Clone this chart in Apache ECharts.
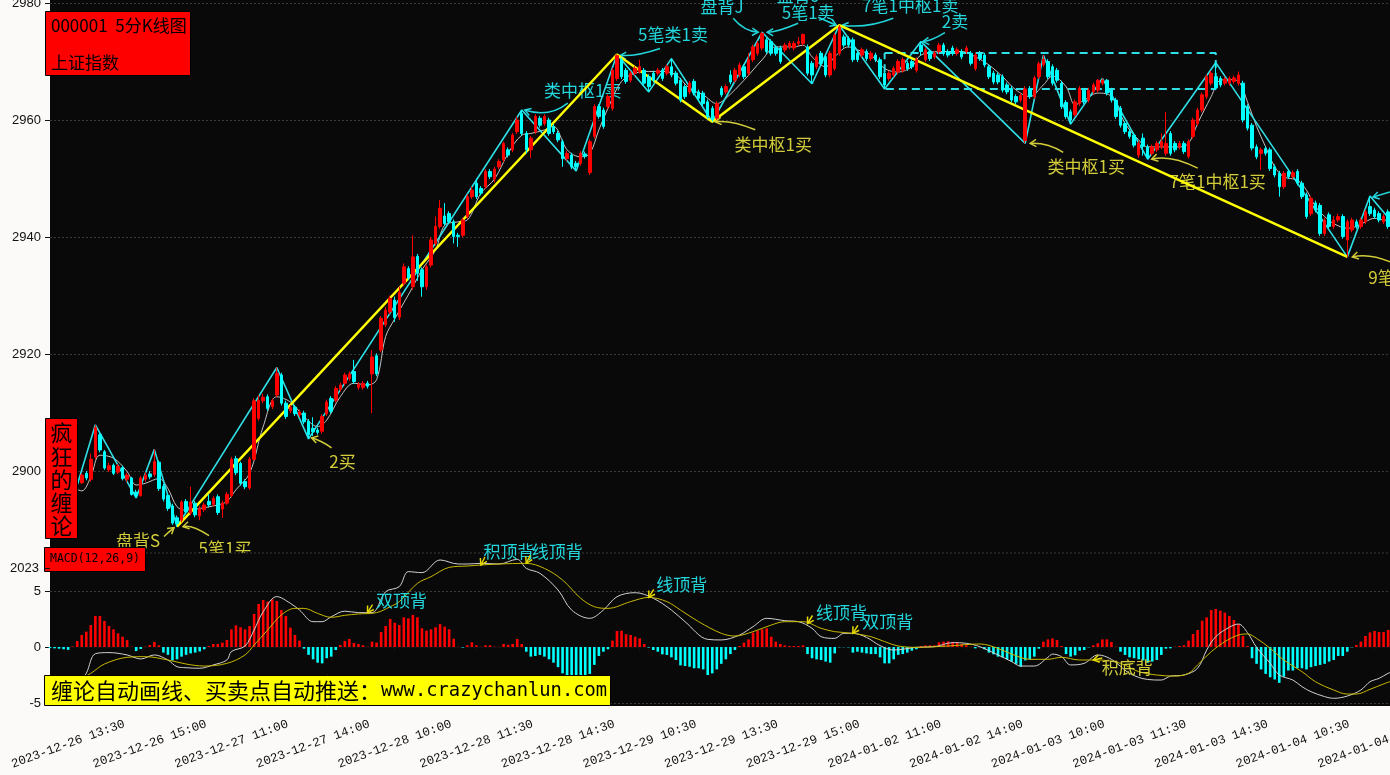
<!DOCTYPE html>
<html><head><meta charset="utf-8">
<script src="https://cdn.jsdelivr.net/npm/echarts@6.0.0/dist/echarts.min.js"></script>
<style>html,body{margin:0;padding:0;background:#fcfaf8;}#c{width:1390px;height:775px;}</style>
</head><body><div id="c"></div>
<script>
// ---------- DATA ----------
const tradingDays = ['2023-12-26','2023-12-27','2023-12-28','2023-12-29','2024-01-02','2024-01-03','2024-01-04'];
const firstBar = '2023-12-26 13:10';
const barCount = 297;
const tickLabels = ['2023-12-26 13:30','2023-12-26 15:00','2023-12-27 11:00','2023-12-27 14:00','2023-12-28 10:00','2023-12-28 11:30','2023-12-28 14:30','2023-12-29 10:30','2023-12-29 13:30','2023-12-29 15:00','2024-01-02 11:00','2024-01-02 14:00','2024-01-03 10:00','2024-01-03 11:30','2024-01-03 14:30','2024-01-04 10:30','2024-01-04 13:30'];

// [open, close, low, high]
const ohlc = [
[2900.5,2899.8,2899.2,2901.0],[2899.8,2900.6,2899.4,2901.2],[2900.6,2899.6,2899.1,2900.9],[2899.6,2899.0,2898.6,2900.0],[2899.1,2899.8,2898.8,2900.3],
[2899.8,2899.2,2898.9,2900.1],[2898.6,2898.0,2897.6,2899.0],[2898.0,2899.3,2897.8,2899.6],[2899.6,2898.8,2898.4,2900.0],[2898.6,2902.0,2898.2,2903.0],
[2902.4,2907.4,2902.0,2907.9],[2906.2,2903.6,2903.2,2906.6],[2903.3,2900.5,2900.2,2903.6],[2900.2,2900.9,2899.8,2901.4],[2901.0,2899.6,2899.3,2901.3],
[2899.8,2900.8,2899.5,2901.2],[2900.6,2898.7,2898.4,2900.9],[2898.6,2899.3,2898.1,2899.7],[2898.8,2896.0,2895.8,2899.0],[2896.4,2895.8,2895.4,2896.8],
[2895.8,2898.8,2895.6,2899.2],[2898.6,2899.3,2898.2,2899.8],[2899.5,2899.0,2898.6,2900.0],[2899.4,2901.6,2899.0,2903.7],[2901.5,2897.0,2896.6,2901.8],
[2897.4,2895.2,2894.8,2897.8],[2895.8,2893.6,2893.2,2896.2],[2894.0,2891.1,2890.8,2894.4],[2892.0,2891.0,2890.5,2892.4],[2891.6,2894.7,2891.2,2895.0],
[2894.8,2893.0,2892.6,2895.2],[2892.8,2894.7,2892.4,2897.3],[2894.5,2892.5,2892.1,2894.9],[2892.3,2893.6,2891.6,2894.0],[2893.4,2894.2,2893.0,2894.6],
[2894.8,2894.2,2893.8,2896.0],[2894.3,2895.3,2893.9,2895.7],[2895.6,2892.9,2892.5,2896.0],[2893.5,2894.5,2892.0,2894.9],[2894.5,2896.0,2894.2,2896.4],
[2895.8,2902.0,2895.5,2902.4],[2902.1,2899.7,2899.3,2902.6],[2901.3,2897.9,2897.5,2901.6],[2898.2,2897.3,2896.9,2898.6],[2897.1,2902.0,2896.8,2902.4],
[2902.0,2912.0,2901.8,2912.4],[2909.0,2912.1,2908.6,2913.0],[2912.0,2912.6,2911.6,2913.2],[2912.7,2910.7,2910.3,2913.1],[2911.0,2912.0,2910.6,2912.4],
[2913.0,2916.7,2912.6,2917.7],[2916.4,2911.6,2911.2,2916.8],[2911.6,2909.3,2908.9,2912.0],[2910.3,2910.9,2909.9,2911.3],[2910.9,2909.8,2909.4,2911.3],
[2909.6,2910.1,2909.2,2910.5],[2909.9,2908.4,2908.0,2910.3],[2908.5,2906.2,2905.5,2908.9],[2907.3,2906.7,2906.0,2909.2],[2907.0,2906.6,2906.2,2907.4],
[2906.8,2909.3,2906.4,2909.7],[2909.8,2911.8,2909.4,2912.2],[2912.4,2910.2,2909.8,2912.8],[2912.1,2914.1,2911.7,2914.5],[2914.0,2914.7,2913.6,2915.1],
[2915.0,2916.4,2914.6,2916.8],[2915.8,2916.6,2915.4,2917.0],[2917.0,2915.3,2914.9,2919.0],[2914.3,2914.8,2913.9,2915.2],[2914.3,2915.0,2913.9,2915.4],
[2915.0,2914.5,2914.1,2915.4],[2916.6,2919.5,2909.9,2920.7],[2919.7,2916.6,2916.2,2920.1],[2920.7,2926.1,2920.3,2926.5],[2925.0,2927.5,2924.6,2928.0],
[2927.2,2929.5,2926.8,2930.0],[2929.2,2926.2,2925.5,2929.8],[2926.3,2930.5,2925.8,2931.5],[2932.1,2934.9,2931.6,2935.5],[2934.6,2933.0,2932.6,2935.0],
[2931.5,2936.6,2931.0,2940.3],[2936.7,2933.8,2932.5,2937.1],[2934.4,2931.5,2929.8,2934.8],[2931.5,2934.9,2931.0,2935.3],[2935.2,2939.5,2934.8,2940.0],
[2938.9,2941.8,2938.5,2943.5],[2941.8,2944.9,2941.4,2946.3],[2943.6,2942.3,2941.9,2945.8],[2944.0,2942.6,2942.2,2944.4],[2942.6,2940.1,2938.9,2943.0],
[2940.3,2940.1,2938.3,2940.7],[2940.3,2942.9,2939.9,2943.3],[2943.5,2946.9,2943.1,2947.3],[2946.9,2948.0,2946.5,2948.6],[2949.2,2946.9,2946.5,2950.0],
[2948.3,2947.5,2947.1,2948.7],[2948.6,2951.2,2948.2,2951.6],[2951.2,2950.3,2949.9,2951.6],[2949.9,2951.6,2949.3,2952.0],[2952.0,2952.9,2951.6,2953.3],
[2953.2,2956.0,2952.8,2956.3],[2954.9,2954.0,2953.6,2955.3],[2954.9,2957.4,2954.5,2957.8],[2958.0,2960.0,2957.6,2960.6],[2961.1,2957.7,2957.3,2961.7],
[2957.7,2954.9,2954.3,2958.1],[2954.9,2956.9,2953.5,2957.3],[2958.0,2960.6,2957.6,2961.0],[2960.3,2959.1,2958.7,2960.7],[2959.4,2960.6,2959.0,2961.0],
[2960.0,2957.7,2957.3,2960.4],[2958.9,2958.0,2957.6,2959.3],[2957.7,2956.6,2956.2,2958.1],[2956.3,2953.4,2952.0,2956.7],[2953.4,2954.3,2953.0,2954.7],
[2954.0,2952.0,2951.6,2954.4],[2952.6,2952.0,2951.3,2953.0],[2952.6,2954.3,2952.2,2954.7],[2954.2,2953.8,2953.4,2954.6],[2951.0,2956.3,2950.6,2956.7],
[2957.2,2962.3,2956.8,2962.7],[2962.3,2960.6,2960.2,2962.7],[2961.7,2958.9,2958.5,2962.1],[2962.3,2964.0,2961.9,2964.4],[2962.0,2968.5,2961.6,2968.9],
[2967.1,2971.0,2966.7,2971.2],[2970.3,2967.4,2967.0,2970.7],[2968.5,2966.6,2966.2,2968.9],[2966.8,2968.0,2966.4,2968.4],[2968.0,2968.8,2967.6,2969.2],
[2968.3,2969.1,2967.9,2970.3],[2968.5,2966.3,2965.9,2968.9],[2967.4,2965.7,2964.8,2967.8],[2968.0,2966.8,2966.4,2968.4],[2968.0,2968.5,2967.6,2968.9],
[2968.5,2967.1,2966.7,2968.9],[2968.0,2969.1,2967.6,2969.5],[2969.1,2967.7,2967.3,2970.5],[2968.0,2966.3,2965.9,2968.4],[2966.8,2963.4,2963.0,2967.2],
[2965.7,2964.0,2963.6,2966.1],[2964.8,2966.3,2964.4,2966.7],[2966.6,2964.6,2964.2,2967.0],[2964.8,2963.7,2963.3,2965.2],[2964.6,2962.8,2962.4,2965.0],
[2963.1,2960.6,2960.2,2963.5],[2962.0,2960.0,2959.7,2962.4],[2960.3,2962.8,2960.0,2963.2],[2965.4,2964.3,2963.9,2965.8],[2964.8,2965.7,2964.4,2966.1],
[2967.7,2966.5,2966.1,2968.5],[2966.8,2968.5,2966.4,2968.9],[2967.7,2969.4,2967.3,2969.8],[2969.1,2967.4,2967.0,2969.5],[2968.0,2970.3,2967.6,2971.4],
[2970.3,2972.5,2969.9,2972.9],[2971.4,2973.1,2971.0,2973.5],[2972.3,2974.8,2971.9,2975.0],[2973.7,2971.7,2971.3,2974.1],[2973.4,2971.4,2971.0,2973.8],
[2972.3,2971.4,2971.0,2972.7],[2972.3,2970.0,2969.6,2972.7],[2972.0,2972.8,2971.6,2973.2],[2972.5,2973.1,2972.1,2973.5],[2972.3,2973.1,2971.9,2973.5],
[2973.1,2973.4,2972.7,2974.2],[2973.1,2974.6,2972.7,2974.8],[2972.5,2968.0,2967.6,2972.9],[2969.7,2967.7,2966.2,2970.1],[2969.1,2970.8,2968.7,2971.2],
[2971.4,2969.7,2969.3,2971.8],[2970.8,2967.7,2967.3,2971.2],[2967.7,2971.4,2967.3,2971.8],[2968.8,2974.5,2968.4,2974.9],[2971.4,2975.9,2971.0,2976.2],
[2974.2,2972.8,2972.4,2974.6],[2973.9,2972.8,2972.4,2974.3],[2973.7,2970.3,2969.9,2974.1],[2971.4,2970.3,2969.9,2971.8],[2971.1,2972.0,2970.7,2972.4],
[2971.7,2970.5,2970.1,2972.1],[2970.5,2971.4,2970.1,2971.8],[2971.1,2970.3,2969.9,2971.5],[2970.3,2967.4,2967.0,2970.7],[2968.0,2966.0,2965.3,2968.4],
[2967.1,2968.0,2966.7,2968.4],[2967.7,2968.8,2967.3,2969.2],[2968.2,2970.0,2967.8,2970.4],[2968.5,2970.3,2968.1,2970.7],[2969.7,2968.8,2968.4,2970.1],
[2970.0,2969.1,2968.7,2970.4],[2968.5,2970.3,2968.1,2970.7],[2972.8,2971.7,2971.0,2973.4],[2970.3,2972.0,2969.9,2972.4],[2971.7,2970.5,2970.1,2972.1],
[2970.8,2971.4,2970.4,2971.8],[2971.7,2972.8,2971.3,2973.2],[2972.8,2971.4,2971.0,2973.2],[2971.7,2971.1,2970.7,2972.1],[2972.3,2971.4,2971.0,2972.7],
[2971.4,2972.0,2971.0,2972.4],[2971.7,2970.8,2970.4,2972.1],[2971.7,2972.3,2971.3,2972.7],[2971.4,2969.7,2969.3,2971.8],[2968.8,2971.1,2968.4,2971.5],
[2971.4,2970.5,2970.1,2971.8],[2971.1,2969.4,2969.0,2971.5],[2969.1,2967.4,2967.0,2969.5],[2968.0,2966.5,2966.1,2968.4],[2967.7,2966.5,2966.1,2968.1],
[2967.4,2965.1,2964.7,2967.8],[2966.0,2964.8,2964.4,2966.4],[2965.4,2963.4,2963.0,2965.8],[2964.0,2963.1,2962.7,2964.4],[2963.4,2964.2,2963.0,2964.6],
[2956.5,2965.3,2956.0,2965.8],[2965.4,2964.0,2963.6,2965.8],[2964.0,2967.2,2963.6,2967.6],[2967.4,2969.6,2967.0,2970.0],[2969.5,2970.4,2969.1,2971.1],
[2970.0,2967.4,2967.0,2970.4],[2969.1,2966.3,2965.9,2969.5],[2968.5,2966.8,2966.4,2968.9],[2966.3,2962.3,2961.9,2966.7],[2963.0,2960.6,2960.2,2963.4],
[2961.4,2960.0,2959.3,2961.8],[2960.9,2963.1,2960.5,2963.5],[2962.8,2965.4,2962.4,2965.8],[2965.1,2963.1,2962.7,2965.5],[2963.4,2965.1,2963.0,2965.5],
[2964.8,2966.0,2964.4,2966.4],[2965.1,2966.8,2964.7,2967.0],[2966.3,2966.8,2965.9,2967.1],[2966.8,2964.6,2964.2,2967.0],[2965.1,2963.4,2963.0,2965.5],
[2963.4,2960.6,2960.2,2963.8],[2962.0,2959.1,2958.7,2962.4],[2959.4,2958.0,2957.6,2959.8],[2958.0,2957.2,2956.8,2958.4],[2957.4,2955.7,2955.3,2957.8],
[2954.0,2956.0,2953.5,2956.4],[2956.9,2955.5,2953.9,2957.7],[2955.4,2953.6,2953.3,2955.8],[2954.3,2955.4,2953.9,2955.8],[2954.9,2956.0,2954.5,2956.4],
[2955.4,2956.3,2955.0,2957.7],[2954.3,2956.0,2953.9,2961.4],[2957.7,2954.3,2953.9,2958.1],[2956.0,2954.9,2954.5,2956.4],[2955.4,2956.0,2955.0,2956.4],
[2956.0,2954.6,2954.2,2956.4],[2953.8,2956.3,2953.4,2956.7],[2957.2,2960.0,2956.8,2960.4],[2959.4,2961.7,2959.0,2962.1],[2961.7,2964.3,2961.3,2964.7],
[2964.0,2967.4,2963.6,2967.8],[2966.3,2968.0,2965.9,2968.4],[2967.4,2965.5,2965.1,2969.8],[2967.1,2966.0,2965.6,2967.5],[2966.3,2967.0,2965.9,2967.4],
[2966.3,2967.1,2965.9,2967.5],[2966.6,2967.2,2966.2,2967.6],[2966.3,2967.7,2965.9,2968.3],[2966.3,2960.0,2959.6,2966.7],[2962.3,2958.6,2958.2,2962.7],
[2959.1,2955.2,2954.8,2959.5],[2955.4,2953.7,2953.3,2955.8],[2954.3,2954.9,2951.5,2955.3],[2955.1,2954.3,2953.9,2955.5],[2954.9,2951.7,2951.3,2955.3],
[2952.0,2950.6,2950.2,2952.4],[2950.9,2948.6,2946.9,2951.3],[2948.6,2950.9,2948.2,2951.3],[2951.2,2950.3,2949.9,2951.6],[2950.3,2951.0,2949.9,2951.4],
[2951.2,2949.2,2948.8,2951.6],[2949.2,2946.9,2946.5,2949.6],[2947.2,2943.5,2943.1,2947.6],[2944.0,2946.6,2943.6,2947.0],[2945.8,2944.6,2944.2,2946.2],
[2945.4,2940.6,2940.2,2945.8],[2940.6,2942.9,2940.2,2943.3],[2943.8,2941.8,2941.4,2944.2],[2941.8,2942.9,2941.4,2943.6],[2942.9,2943.5,2942.5,2944.0],
[2943.5,2940.1,2939.7,2943.9],[2939.5,2942.6,2936.6,2943.0],[2941.2,2942.9,2940.8,2943.3],[2942.6,2941.8,2941.4,2943.0],[2941.8,2942.9,2941.4,2943.3],
[2942.6,2944.3,2942.2,2944.7],[2945.2,2944.0,2943.6,2947.0],[2944.6,2943.5,2943.1,2945.0],[2944.0,2942.9,2942.5,2944.4],[2942.6,2943.5,2942.2,2943.9],
[2944.3,2941.8,2941.4,2944.7],[2941.8,2942.5,2941.2,2942.9]
];

// moving average (gray) read at sample bars: [barIndex, value]
const maPoints = [[0,2899.5],[4,2898.0],[7,2896.6],[9,2899.0],[11,2902.7],[14,2902.2],[17,2899.9],[19,2897.6],[21,2897.9],[24,2898.7],[26,2897.0],[28,2893.9],[30,2893.3],[33,2893.6],[37,2894.2],[39,2894.8],[41,2896.8],[44,2899.6],[47,2907.6],[50,2912.7],[53,2911.8],[56,2909.3],[59,2907.6],[61,2908.7],[64,2912.7],[67,2915.0],[70,2914.7],[72,2915.6],[74,2923.0],[76,2926.0],[80,2931.5],[82,2934.4],[85,2937.8],[87,2942.0],[90,2942.6],[92,2942.9],[95,2947.5],[98,2949.9],[101,2954.3],[104,2957.4],[106,2957.7],[109,2958.3],[111,2958.9],[114,2954.9],[117,2953.7],[119,2954.3],[121,2958.3],[123,2962.0],[126,2966.6],[129,2968.0],[132,2968.3],[135,2968.3],[138,2967.7],[141,2965.4],[144,2964.3],[147,2962.8],[149,2963.7],[153,2966.8],[157,2970.3],[160,2972.5],[164,2972.5],[166,2972.8],[168,2970.8],[171,2969.1],[173,2970.8],[176,2972.5],[178,2972.0],[181,2971.1],[184,2968.8],[187,2968.2],[190,2969.1],[192,2971.1],[197,2971.7],[201,2971.7],[204,2970.8],[207,2969.4],[210,2967.4],[213,2965.1],[216,2964.0],[219,2966.0],[221,2967.5],[224,2965.7],[226,2962.6],[228,2963.4],[231,2964.6],[234,2964.0],[237,2959.4],[240,2956.6],[242,2955.4],[245,2955.4],[249,2955.4],[251,2956.0],[253,2959.4],[256,2964.0],[258,2966.8],[260,2966.9],[262,2966.6],[264,2963.1],[266,2958.9],[268,2955.4],[270,2952.0],[272,2950.3],[275,2949.7],[277,2948.0],[279,2945.2],[281,2943.5],[283,2942.3],[286,2941.5],[288,2941.8],[290,2942.6],[292,2943.2],[294,2942.9],[296,2942.8]];

// strokes (bi) vertices [barIndex, price]
const biPoints = [[6,2897.6],[10,2907.9],[19,2895.4],[23,2903.7],[28,2890.5],[50,2917.7],[57,2905.5],[104,2961.7],[116,2951.3],[125,2971.2],[132,2964.8],[137,2970.5],[146,2959.7],[157,2975.0],[168,2966.2],[174,2976.2],[184,2965.3],[192,2973.4],[215,2956.0],[219,2971.1],[225,2959.3],[232,2967.1],[242,2953.3],[257,2969.8],[286,2936.6],[291,2947.0],[296,2942.4]];
// segments (xianduan) vertices
const segPoints = [[28,2890.5],[125,2971.2],[146,2959.7],[174,2976.2],[286,2936.6]];
// pivot box (zhongshu): start bar, end bar, top, bottom
const zsBox = [184, 257, 2971.45, 2965.3];

// MACD histogram per bar
const macdHist = [
-0.10,-0.12,-0.15,-0.20,-0.25,0.05,0.54,1.07,1.37,1.96,
2.77,2.77,2.32,1.87,1.58,1.22,0.92,0.63,0.02,-0.36,
-0.18,0.03,0.18,0.45,0.15,-0.50,-0.70,-1.20,-1.10,-0.86,
-0.70,-0.57,-0.50,-0.40,-0.20,0.09,0.27,0.27,0.39,0.63,
1.58,1.93,1.76,1.58,1.87,2.95,3.84,4.20,4.05,4.26,
4.10,3.30,2.77,1.73,1.07,0.57,-0.15,-0.70,-1.10,-1.40,
-1.46,-1.00,-0.86,-0.27,0.18,0.54,0.71,0.36,0.27,0.15,
0.02,0.48,0.39,1.34,1.87,2.50,2.17,1.96,2.65,2.56,
2.86,2.65,1.67,1.46,1.58,1.76,2.05,1.82,1.58,0.74,
0.02,-0.05,0.15,0.42,0.15,0.02,0.15,0.15,0.03,0.02,
0.27,0.20,0.27,0.71,0.27,-0.42,-0.86,-0.80,-0.71,-0.86,
-1.10,-1.40,-1.80,-2.35,-2.60,-2.70,-2.90,-2.80,-2.60,-2.40,
-1.60,-0.80,-0.42,-0.20,0.57,1.43,1.46,1.13,1.07,0.92,
0.77,0.27,-0.05,-0.27,-0.42,-0.65,-0.71,-0.92,-1.16,-1.64,
-1.70,-1.76,-1.90,-1.90,-2.00,-2.50,-2.35,-2.00,-1.50,-1.10,
-0.63,-0.27,0.09,0.39,0.68,1.28,1.46,1.58,1.67,0.92,
0.48,0.27,0.15,0.09,0.09,0.09,0.15,-0.63,-1.00,-1.10,
-1.16,-1.30,-1.40,-0.57,-0.03,-0.02,-0.03,-0.50,-0.42,-0.50,
-0.57,-0.63,-0.63,-0.92,-1.46,-1.46,-1.10,-0.70,-0.63,-0.50,
-0.33,-0.20,0.09,0.15,0.15,0.15,0.42,0.48,0.50,0.45,
0.39,0.27,0.15,0.02,-0.12,-0.02,-0.20,-0.50,-0.65,-0.86,
-0.92,-1.10,-1.30,-1.50,-1.76,-1.20,-1.10,-0.86,-0.15,0.48,
0.68,0.77,0.63,0.09,-0.63,-0.86,-0.74,-0.33,-0.27,-0.03,
0.15,0.33,0.68,0.68,0.45,0.02,-0.42,-0.71,-0.92,-1.00,
-1.10,-1.20,-1.40,-1.30,-1.16,-0.71,-0.15,-0.12,0.02,0.09,
0.15,0.57,1.16,1.52,2.35,2.65,3.30,3.40,3.24,3.07,
2.77,2.41,2.05,0.98,0.09,-1.00,-1.50,-2.00,-2.40,-2.70,
-2.90,-3.20,-2.65,-2.10,-2.10,-1.90,-1.90,-2.00,-1.80,-1.70,
-1.60,-1.50,-1.30,-1.16,-0.80,-0.80,-0.42,-0.03,0.18,0.48,
0.98,1.30,1.43,1.34,1.34,1.52,1.50
];
// DIF (white) and DEA (yellow) read at sample bars
const difPoints = [[0,-5.0],[3,-4.5],[6,-3.6],[8,-2.35],[10,-0.6],[13,-0.5],[17,-0.71],[20,-1.07],[23,-0.71],[26,-1.16],[28,-1.76],[30,-1.85],[33,-1.9],[36,-1.6],[39,-1.16],[40,-0.4],[43,0.09],[45,1.52],[47,3.15],[50,4.5],[53,3.9],[55,3.3],[58,2.26],[60,2.26],[62,2.7],[65,3.2],[68,3.07],[71,3.07],[74,4.94],[77,5.39],[79,6.73],[82,6.64],[86,7.77],[90,7.41],[92,7.41],[95,7.47],[99,7.41],[103,7.83],[105,7.02],[108,6.58],[112,5.09],[115,3.3],[119,2.56],[122,3.3],[125,4.49],[129,4.85],[133,4.35],[137,3.3],[140,2.26],[145,0.68],[148,0.63],[152,1.07],[155,1.82],[158,2.56],[162,2.35],[165,2.26],[168,1.67],[170,0.92],[173,0.77],[175,1.22],[177,1.22],[180,0.86],[183,0.12],[186,-0.27],[191,-0.03],[195,0.03],[199,0.39],[202,0.33],[205,0.03],[209,-0.71],[212,-1.3],[214,-1.7],[217,-1.7],[220,-0.92],[221,-0.63],[223,-0.86],[225,-1.6],[228,-1.46],[231,-0.71],[234,-1.1],[238,-2.35],[242,-2.9],[245,-2.95],[247,-2.6],[250,-2.5],[253,-1.9],[255,-0.27],[257,0.92],[260,1.76],[262,2.05],[264,1.28],[266,-0.03],[269,-1.46],[271,-2.5],[274,-2.95],[276,-3.54],[278,-3.99],[281,-4.43],[283,-4.58],[286,-4.38],[289,-3.84],[291,-3.1],[293,-2.8],[295,-2.35],[296,-2.2]];
const deaPoints = [[0,-4.2],[4,-3.5],[9,-2.35],[12,-1.52],[17,-0.92],[21,-0.86],[26,-1.16],[30,-1.52],[34,-1.7],[39,-1.46],[43,-0.71],[45,0.18],[48,1.52],[51,2.86],[54,3.45],[56,3.45],[59,3.0],[62,2.65],[65,2.83],[68,2.95],[72,3.07],[75,3.6],[77,4.05],[81,5.68],[84,6.28],[88,7.11],[92,7.23],[95,7.32],[99,7.41],[105,7.47],[109,7.02],[113,5.98],[117,4.35],[120,3.6],[123,3.45],[128,4.05],[132,4.43],[136,4.05],[139,3.3],[143,2.26],[148,1.22],[151,0.98],[155,1.37],[159,1.96],[162,2.26],[166,2.26],[170,1.67],[173,1.37],[177,1.22],[181,0.92],[184,0.48],[187,0.09],[191,-0.03],[198,0.09],[205,0.27],[209,-0.12],[212,-0.63],[216,-1.1],[220,-1.1],[223,-0.92],[227,-1.16],[231,-1.16],[236,-1.46],[240,-2.2],[244,-2.5],[248,-2.6],[251,-2.35],[253,-1.6],[256,-0.42],[259,0.48],[262,1.07],[264,1.16],[266,0.77],[269,-0.12],[272,-1.16],[276,-2.2],[279,-3.1],[283,-3.84],[286,-4.2],[288,-4.2],[291,-3.78],[294,-3.3],[296,-3.0]];

// buy/sell point notes: [text, bar, price, textDx, textDy, arrowStartDx, arrowStartDy, ctrlDx, ctrlDy, endDx, endDy, kind(s=sell,b=buy), align]
const mainNotes = [
 ['类中枢1卖',104,2961.7, 61,-20, 46,-7, 27,8, 3,0,'s','center'],
 ['5笔类1卖',125,2971.2, 56,-20, 43,-6, 20,2, 3,1,'s','center'],
 ['盘背J',157,2975.0, -40,-26, -29,-14, -18,-1, -4,0,'s','center'],
 ['5笔1卖',157,2975.0, 46,-20, 36,-9, 15,0, 5,0,'s','center'],
 ['盘背J',174,2976.2, -41,-30, -21,-8, -10,-3, -3,0,'s','center'],
 ['7笔1中枢1卖',174,2976.2, 71,-20, 54,-7, 27,3.5, 3,0,'s','center'],
 ['2卖',192,2973.4, 34,-20, 24,-9, 11,-1, 2,0,'s','center'],
 ['',291,2947.0, 0,0, 20,-4, 10,-1, 3,1,'s','center'],
 ['盘背S',28,2890.5, -39,14, -13,10, -8,5, -3,1,'b','center'],
 ['5笔1买',28,2890.5, 48,22, 32,9, 15,-2, 6,0,'b','center'],
 ['2买',57,2905.5, 34,23, 23,9, 13,2, 3,-1,'b','center'],
 ['类中枢1买',146,2959.7, 61,23, 43,8, 19,-2, 3,0,'b','center'],
 ['类中枢1买',215,2956.0, 61,23, 38,9, 22,-1, 5,0,'b','center'],
 ['7笔1中枢1买',242,2953.3, 70,22, 50,9, 23,-5, 4,0,'b','center'],
 ['9笔1中枢1买',286,2936.6, 21,21, 43,5, 22,-4, 5,0,'b','left']
];
// MACD divergence notes: [text, bar, value, textDx, textDy, arrowDx, arrowDy, kind]
const macdNotes = [
 ['双顶背',70,3.07, 34,-12, 5,-8,'c'],
 ['积顶背',95,7.32, 28,-13, 4,-8,'c'],
 ['线顶背',105,7.47, 31,-12, 4,-8,'c'],
 ['线顶背',132,4.43, 33,-13, 5,-8,'c'],
 ['线顶背',167,2.1, 34,-11, 5,-8,'c'],
 ['双顶背',177,1.22, 35,-12, 5,-8,'c'],
 ['积底背',230,-1.16, 34,8, 9,-2,'y']
];

// ---------- BUILD ----------
function buildCategories() {
  const slots = [];
  const add = (h0, m0, h1, m1) => { let t = h0*60+m0; const e = h1*60+m1; while (t <= e) { slots.push(String(Math.floor(t/60)).padStart(2,'0')+':'+String(t%60).padStart(2,'0')); t += 5; } };
  add(9,35,11,30); add(13,5,15,0);
  const all = [];
  tradingDays.forEach(d => slots.forEach(s => all.push(d+' '+s)));
  const st = all.indexOf(firstBar);
  return all.slice(st, st + barCount);
}
const categories = buildCategories();
const tickIdx = new Set(tickLabels.map(l => categories.indexOf(l)));
const showTick = (i) => tickIdx.has(i);

const CY = '#22d6dc', BY = '#d2cc3a';
const chart = echarts.init(document.getElementById('c'));
const GRID_W = 296 * 4.536;
const lblFont = 'Liberation Sans';

chart.setOption({
  animation: false,
  backgroundColor: '#fcfaf8',
  grid: [
    {left: 50, top: 3, width: GRID_W, height: 585, containLabel: false, outerBoundsMode: 'none'},
    {left: 50, top: 535, width: GRID_W, height: 168, containLabel: false, outerBoundsMode: 'none'}
  ],
  xAxis: [
    {type: 'category', gridIndex: 0, data: categories, boundaryGap: false, show: false},
    {type: 'category', gridIndex: 1, data: categories, boundaryGap: false, offset: 3, z: 4,
     axisLine: {lineStyle: {color: '#111', width: 1}},
     axisTick: {interval: showTick, length: 5, lineStyle: {color: '#111'}},
     axisLabel: {interval: showTick, rotate: 20, align: 'center', verticalAlign: 'middle', margin: 38,
       color: '#111', fontFamily: 'Liberation Mono', fontSize: 12.5},
     splitLine: {show: false}}
  ],
  yAxis: [
    {type: 'value', gridIndex: 0, min: 2880, max: 2980, interval: 20, position: 'left',
     axisLine: {show: false}, axisTick: {show: true, length: 5, lineStyle: {color: '#111'}},
     axisLabel: {showMinLabel: false, color: '#111', fontFamily: lblFont, fontSize: 13, margin: 9,
       formatter: v => String(v)},
     splitLine: {show: true, showMinLine: false, lineStyle: {color: '#3a3a3a', type: [2, 2]}}},
    {type: 'value', gridIndex: 1, min: -5, max: 10, interval: 5, position: 'left', z: 4,
     axisLine: {show: false}, axisTick: {show: true, length: 5, lineStyle: {color: '#111'}},
     axisLabel: {showMaxLabel: false, color: '#111', fontFamily: lblFont, fontSize: 13, margin: 9,
       formatter: v => String(v)},
     splitLine: {show: true, showMaxLine: false, lineStyle: {color: '#3a3a3a', type: [2, 2]}}}
  ],
  series: [
    {type: 'candlestick', xAxisIndex: 0, yAxisIndex: 0, data: ohlc, barWidth: 3, z: 2,
     itemStyle: {color: '#ff0000', color0: '#00ffff', borderColor: '#ff0000', borderColor0: '#00ffff', borderWidth: 1}},
    {type: 'line', xAxisIndex: 0, yAxisIndex: 0, data: maPoints, showSymbol: false, smooth: 0.35, z: 2,
     lineStyle: {color: '#c4c4c4', width: 1}},
    {type: 'line', xAxisIndex: 0, yAxisIndex: 0, data: biPoints, showSymbol: false, z: 2,
     lineStyle: {color: '#2fdfe6', width: 1.6}},
    {type: 'line', xAxisIndex: 0, yAxisIndex: 0, showSymbol: false, z: 2,
     data: [[zsBox[0], zsBox[2]], [zsBox[1], zsBox[2]], [zsBox[1], zsBox[3]], [zsBox[0], zsBox[3]], [zsBox[0], zsBox[2]]],
     lineStyle: {color: '#2fdfe6', width: 2, type: [8, 5]}},
    {type: 'line', xAxisIndex: 0, yAxisIndex: 0, data: segPoints, showSymbol: false, z: 2,
     lineStyle: {color: '#ffff00', width: 2.5}},
    {type: 'bar', xAxisIndex: 1, yAxisIndex: 1, data: macdHist, barWidth: 2.6, z: 5,
     itemStyle: {color: p => p.value >= 0 ? '#ff0000' : '#00ffff'}},
    {type: 'line', xAxisIndex: 1, yAxisIndex: 1, data: difPoints, showSymbol: false, smooth: 0.35, z: 5,
     lineStyle: {color: '#d0d0d0', width: 1}},
    {type: 'line', xAxisIndex: 1, yAxisIndex: 1, data: deaPoints, showSymbol: false, smooth: 0.35, z: 5,
     lineStyle: {color: '#c8b800', width: 1}}
  ]
});

// ---------- GRAPHICS (annotations, label boxes) ----------
const g = [];
const cjk = '"Noto Sans CJK SC", "Noto Sans", sans-serif';
g.push({type: 'rect', silent: true, z: -1, shape: {x: 50, y: 0, width: 1345, height: 706}, style: {fill: '#090909'}});
g.push({type: 'rect', silent: true, z: 3, shape: {x: 50, y: 553, width: 1345, height: 153}, style: {fill: '#090909'}});
g.push({type: 'line', silent: true, z: 4, shape: {x1: 50, y1: 553, x2: 1395, y2: 553}, style: {stroke: '#3a3a3a', lineDash: [2, 2]}});

function txt(x, y, text, color, font, z, align) {
  return {type: 'text', x, y, z, silent: true,
    style: {text, fill: color, font, align: align || 'center', verticalAlign: 'middle', textAlign: align || 'center', textVerticalAlign: 'middle'}};
}
function arrow(s, c, e, color, z, w) {
  const ang = Math.atan2(e[1] - c[1], e[0] - c[0]);
  const L = 7, a = 0.55;
  return [
    {type: 'bezierCurve', z, silent: true, shape: {x1: s[0], y1: s[1], x2: e[0], y2: e[1], cpx1: c[0], cpy1: c[1]}, style: {stroke: color, fill: 'none', lineWidth: w || 1.5}},
    {type: 'polyline', z, silent: true, shape: {points: [[e[0] - L*Math.cos(ang - a), e[1] - L*Math.sin(ang - a)], [e[0], e[1]], [e[0] - L*Math.cos(ang + a), e[1] - L*Math.sin(ang + a)]]},
     style: {stroke: color, fill: 'none', lineWidth: w || 1.5}}
  ];
}
mainNotes.forEach(n => {
  const [t, i, p, tx, ty, sx, sy, cx, cy, ex, ey, k, al] = n;
  const v = chart.convertToPixel({gridIndex: 0}, [i, p]);
  const col = k === 's' ? CY : BY;
  if (t) g.push(txt(v[0] + tx, v[1] + ty, t, col, '17px ' + cjk, 2, al));
  g.push(...arrow([v[0] + sx, v[1] + sy], [v[0] + cx, v[1] + cy], [v[0] + ex, v[1] + ey], col, 2));
});
macdNotes.forEach(n => {
  const [t, i, val, tx, ty, ax, ay, k] = n;
  const v = chart.convertToPixel({gridIndex: 1}, [i, val]);
  const col = k === 'c' ? CY : BY;
  g.push(txt(v[0] + tx, v[1] + ty, t, col, '17px ' + cjk, 6));
  const s = [v[0] + ax, v[1] + ay];
  g.push(...arrow(s, [(s[0] + v[0]) / 2, (s[1] + v[1]) / 2], [v[0], v[1]], '#e6d800', 6, 1.5));
});

// label boxes
g.push({type: 'rect', z: 10, silent: true, shape: {x: 45.5, y: 11.5, width: 145, height: 64}, style: {fill: '#ff0000', stroke: '#000', lineWidth: 1}});
g.push(txt(51, 26, '000001  5分K线图', '#000', '17px ' + cjk, 11, 'left'));
g.push(txt(51, 63, '上证指数', '#000', '17px ' + cjk, 11, 'left'));
g.push({type: 'rect', z: 10, silent: true, shape: {x: 45.5, y: 418.5, width: 32, height: 120}, style: {fill: '#ff0000', stroke: '#000', lineWidth: 1}});
['疯','狂','的','缠','论'].forEach((ch, k) => g.push(txt(61.5, 433 + k * 23.2, ch, '#000', '22px ' + cjk, 11)));
g.push({type: 'rect', z: 10, silent: true, shape: {x: 44.5, y: 547.5, width: 101, height: 24}, style: {fill: '#ff0000', stroke: '#000', lineWidth: 1}});
g.push(txt(50, 559, 'MACD(12,26,9)', '#000', '11.5px "DejaVu Sans Mono", monospace', 11, 'left'));
g.push({type: 'rect', z: 10, silent: true, shape: {x: 44.5, y: 675.5, width: 566, height: 30}, style: {fill: '#ffff00', stroke: '#000', lineWidth: 1}});
g.push({type: 'text', x: 51, y: 691, z: 11, silent: true,
  style: {text: '{a|缠论自动画线、买卖点自动推送：}{b|www.crazychanlun.com}', verticalAlign: 'middle', textVerticalAlign: 'middle', align: 'left', textAlign: 'left',
    rich: {a: {font: '22px ' + cjk, fill: '#000'}, b: {font: '18.8px "DejaVu Sans Mono", monospace', fill: '#000'}}}});
// stray axis label
g.push(txt(39, 568, '2023', '#111', '13px ' + lblFont, 11, 'right'));
g.push({type: 'line', z: 11, silent: true, shape: {x1: 45, y1: 568.5, x2: 50, y2: 568.5}, style: {stroke: '#111', lineWidth: 1}});

chart.setOption({graphic: g});
</script></body></html>
